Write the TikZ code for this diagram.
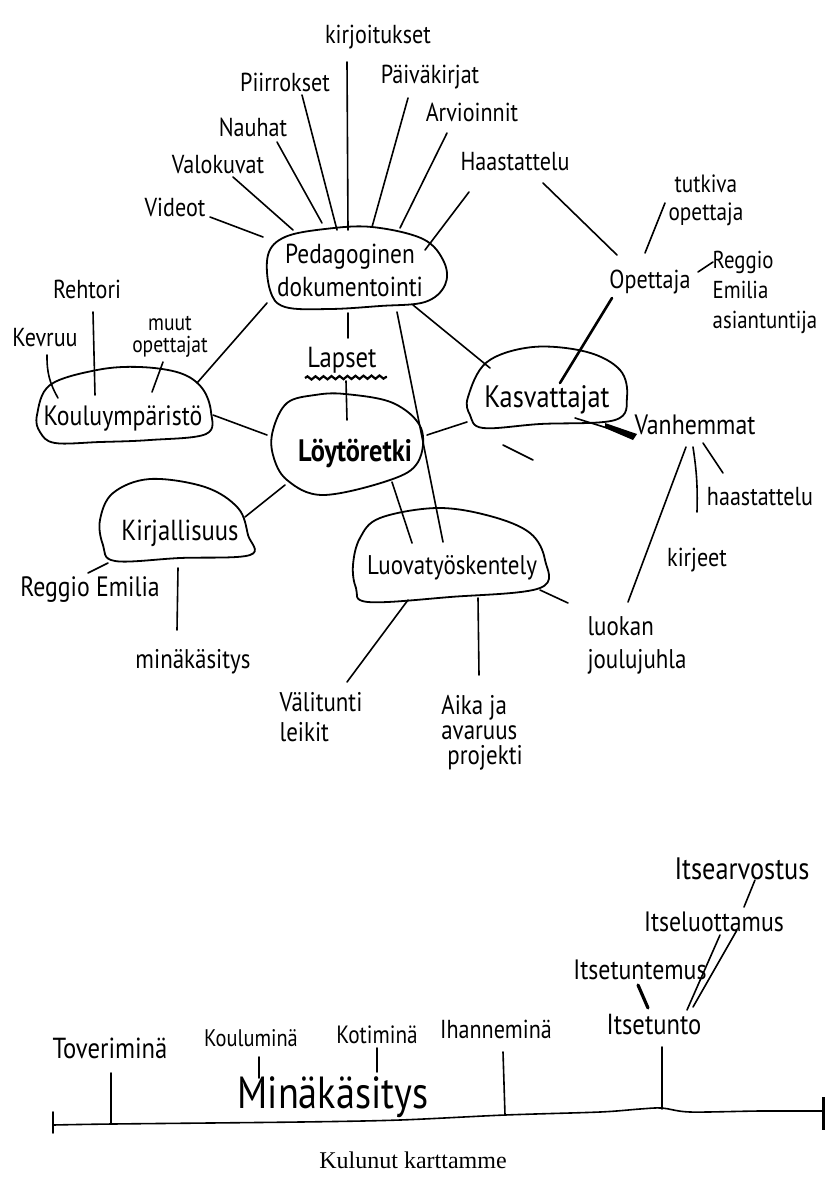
\documentclass[tikz,border=0pt]{standalone}
\usepackage{fontspec}
\setmainfont{PT Sans}[FakeStretch=0.85]
\newfontfamily\capfont{Liberation Serif}
\usetikzlibrary{decorations.pathmorphing}
\newcommand\fsz[2]{\fontsize{#1}{#2}\selectfont}
\begin{document}
\begin{tikzpicture}[x=1pt,y=-1pt,
 lbl/.style={inner sep=1pt, font=\fsz{26}{30}, align=center},
 llbl/.style={lbl, align=left},
 btxt/.style={inner sep=1pt, font=\fsz{27.5}{33}, align=center},
 conn/.style={line width=1.6pt, line cap=round},
 heavy/.style={line width=3.2pt, line cap=round},
 blob/.style={line width=1.8pt}]
\fill[white] (0,0) rectangle (827,1189);
\useasboundingbox (0,0) rectangle (827,1189);

% ---------- blob outlines ----------
\draw[blob] plot[smooth cycle, tension=0.6] coordinates {(268,255) (285,237) (325,229) (372,227) (423,239) (444,262) (445,285) (425,302) (380,306) (330,309) (285,307) (270,290)};
\draw[blob] plot[smooth cycle, tension=0.6] coordinates {(37,415) (50,385) (97,370) (140,367) (180,373) (202,388) (211,412) (206,434) (150,440) (100,442) (55,443) (40,432)};
\draw[blob] plot[smooth cycle, tension=0.6] coordinates {(100,520) (113,493) (150,479) (205,487) (238,508) (248,535) (250,555) (180,558) (115,561) (103,545)};
\draw[blob] plot[smooth cycle, tension=0.6] coordinates {(468,397) (487,362) (533,347) (587,352) (620,370) (627,397) (615,420) (540,424) (483,428) (470,415)};
\draw[blob] plot[smooth cycle, tension=0.6] coordinates {(273,430) (287,403) (315,395) (345,394) (393,403) (421,428) (418,462) (390,480) (323,495) (287,480) (273,455)};
\draw[blob] plot[smooth cycle, tension=0.6] coordinates {(353,565) (360,538) (380,518) (437,508) (490,516) (530,533) (545,560) (540,588) (450,597) (368,602) (356,588)};

% ---------- nodes ----------
\node[lbl] (kirj) at (378,37) {kirjoitukset};
\node[lbl] (piir) at (285,82) {Piirrokset};
\node[lbl] (paiv) at (430,77) {Päiväkirjat};
\node[lbl] (arv) at (472,112) {Arvioinnit};
\node[lbl] (haas) at (515,162) {Haastattelu};
\node[lbl] (nauh) at (253,127) {Nauhat};
\node[lbl] (valo) at (218,165) {Valokuvat};
\node[lbl] (vide) at (175,207) {Videot};
\node[btxt] (ped) at (350,270) {Pedagoginen\\dokumentointi};

\node[lbl] (opet) at (650,282) {Opettaja};
\node[lbl, font=\fsz{25}{28}] (tutk) at (706,200) {tutkiva\\opettaja};
\node[llbl, font=\fsz{24.5}{30}] (reg2) at (765,292) {Reggio\\Emilia\\asiantuntija};

\node[lbl] (kevr) at (45,338) {Kevruu};
\node[lbl] (reht) at (87,289) {Rehtori};
\node[lbl, font=\fsz{23}{22}] (muut) at (170,337) {muut\\opettajat};
\node[btxt, font=\fsz{28}{30}] (koul) at (123,418) {Kouluympäristö};

\node[lbl, font=\fsz{29}{30}] (laps) at (342,360) {Lapset};
\node[btxt, font=\bfseries\fsz{31}{33}] (loyt) at (355,453) {Löytöretki};
\node[btxt, font=\fsz{31}{33}] (kasv) at (547,400) {Kasvattajat};
\node[lbl, font=\fsz{28}{30}] (vanh) at (695,425) {Vanhemmat};
\node[lbl] (haa2) at (760,497) {haastattelu};
\node[lbl] (kirje) at (697,560) {kirjeet};
\node[llbl, font=\fsz{27}{33}] (luok) at (637,645) {luokan\\joulujuhla};

\node[btxt, font=\fsz{29}{30}] (kjal) at (180,533) {Kirjallisuus};
\node[lbl, font=\fsz{28}{30}] (reg1) at (90,590) {Reggio Emilia};
\node[lbl, font=\fsz{27}{30}] (mink) at (193,662) {minäkäsitys};

\node[btxt, font=\fsz{27}{30}] (luova) at (452,568) {Luovatyöskentely};
\node[llbl, font=\fsz{27}{30}] (valit) at (321,717) {Välitunti\\leikit};
\node[llbl, font=\fsz{27}{25}] (aika) at (482,733) {Aika ja\\avaruus\\\ projekti};

\node[lbl, font=\fsz{31}{32}] (itsea) at (742,869) {Itsearvostus};
\node[lbl, font=\fsz{28}{30}] (itsel) at (714,922) {Itseluottamus};
\node[lbl, font=\fsz{28}{30}] (itstm) at (640,970) {Itsetuntemus};
\node[lbl, font=\fsz{29}{30}] (itset) at (654,1025) {Itsetunto};
\node[lbl] (ihan) at (496,1029) {Ihanneminä};
\node[lbl, font=\fsz{25}{30}] (kotm) at (377,1035) {Kotiminä};
\node[lbl, font=\fsz{24}{30}] (kolm) at (251,1038) {Kouluminä};
\node[lbl, font=\fsz{29}{30}] (tovm) at (110,1048) {Toveriminä};
\node[inner sep=1pt, font=\fsz{45}{46}] (mkas) at (333,1097) {Minäkäsitys};
\node[inner sep=1pt, font=\capfont\fsz{24}{26}] (cap) at (413,1160) {Kulunut karttamme};

% ---------- connectors: top ----------
\draw[conn] ([shift={(-31,25)}]kirj.center) -- ([shift={(-2,-40)}]ped.center);
\draw[conn] ([shift={(17,13)}]piir.center) -- ([shift={(-13,-40)}]ped.center);
\draw[conn] ([shift={(-22,21)}]paiv.center) -- ([shift={(22,-43)}]ped.center);
\draw[conn] ([shift={(-25,21)}]arv.center) -- ([shift={(50,-42)}]ped.center);
\draw[conn] ([shift={(-46,30)}]haas.center) -- ([shift={(75,-20)}]ped.center);
\draw[conn] ([shift={(24,15)}]nauh.center) -- ([shift={(-28,-47)}]ped.center);
\draw[conn] ([shift={(15,12)}]valo.center) -- ([shift={(-57,-40)}]ped.center);
\draw[conn] ([shift={(35,10)}]vide.center) -- ([shift={(-87,-33)}]ped.center);
\draw[conn] ([shift={(28,21)}]haas.center) -- ([shift={(-33,-27)}]opet.center);
\draw[conn] ([shift={(-41,3)}]tutk.center) -- ([shift={(-5,-29)}]opet.center);
\draw[conn] ([shift={(-52,-30)}]reg2.center) -- ([shift={(48,-10)}]opet.center);
\draw[heavy, line width=2.6pt] ([shift={(-38,16)}]opet.center) -- ([shift={(13,-17)}]kasv.center);

% ---------- connectors: middle ----------
\draw[conn] ([shift={(-83,33)}]ped.center) -- ([shift={(74,-35)}]koul.center);
\draw[conn] ([shift={(-2,43)}]ped.center) -- ([shift={(6,-22)}]laps.center);
\draw[conn] ([shift={(63,35)}]ped.center) -- ([shift={(-57,-32)}]kasv.center);
\draw[conn] ([shift={(47,42)}]ped.center) -- ([shift={(-9,-26)}]luova.center);
\draw[line width=2.2pt, decorate, decoration={snake, amplitude=1.6pt, segment length=8pt}] ([shift={(-37,18)}]laps.center) -- ([shift={(45,17)}]laps.center);
\draw[conn] ([shift={(4,21)}]laps.center) -- ([shift={(-8,-33)}]loyt.center);

\draw[conn] ([shift={(2,17)}]kevr.center) to[bend right=15] ([shift={(-65,-20)}]koul.center);
\draw[conn] ([shift={(6,23)}]reht.center) -- ([shift={(-28,-23)}]koul.center);
\draw[conn] ([shift={(-7,25)}]muut.center) -- ([shift={(29,-26)}]koul.center);
\draw[conn] ([shift={(90,-3)}]koul.center) -- ([shift={(-88,-18)}]loyt.center);

\draw[conn] ([shift={(65,-16)}]kjal.center) -- ([shift={(-70,32)}]loyt.center);
\draw[conn] ([shift={(-72,30)}]kjal.center) -- ([shift={(-2,-17)}]reg1.center);
\draw[conn] ([shift={(-2,35)}]kjal.center) -- ([shift={(-16,-32)}]mink.center);

\draw[conn] ([shift={(-80,22)}]kasv.center) -- ([shift={(72,-18)}]loyt.center);
\draw[conn] ([shift={(28,18)}]kasv.center) -- ([shift={(-62,11)}]vanh.center);
\fill ([shift={(58,23)}]kasv.center) -- ([shift={(-58,9)}]vanh.center) -- ([shift={(-62,15)}]vanh.center) -- ([shift={(58,28)}]kasv.center) -- cycle;
\draw[conn] ([shift={(-44,45)}]kasv.center) -- ([shift={(-14,60)}]kasv.center);

\draw[conn] ([shift={(-9,22)}]vanh.center) -- ([shift={(-9,-43)}]luok.center);
\draw[conn] ([shift={(-2,22)}]vanh.center) to[bend left=5] ([shift={(-63,15)}]haa2.center);
\draw[conn] ([shift={(8,18)}]vanh.center) -- ([shift={(-37,-24)}]haa2.center);

\draw[conn] ([shift={(37,29)}]loyt.center) -- ([shift={(-40,-25)}]luova.center);
\draw[conn] ([shift={(-44,32)}]luova.center) -- ([shift={(26,-35)}]valit.center);
\draw[conn] ([shift={(26,30)}]luova.center) -- ([shift={(-3,-58)}]aika.center);
\draw[conn] ([shift={(88,22)}]luova.center) -- ([shift={(-69,-42)}]luok.center);

% ---------- bottom ----------
\draw[conn] ([shift={(13,11)}]itsea.center) -- ([shift={(30,-15)}]itsel.center);
\draw[conn] ([shift={(6,13)}]itsel.center) -- ([shift={(33,-15)}]itset.center);
\draw[conn] ([shift={(23,8)}]itsel.center) -- ([shift={(39,-18)}]itset.center);
\draw[heavy] ([shift={(-2,15)}]itstm.center) -- ([shift={(-6,-17)}]itset.center);

\draw[conn] plot[smooth] coordinates {(53,1125) (112,1124) (300,1122) (400,1120) (505,1115) (600,1112) (640,1109) (662,1108) (690,1112) (760,1111) (823,1111)};
\draw[conn] (53,1112) -- (53,1133);
\draw[line width=3pt] (823,1097) -- (823,1130);
\draw[conn] ([shift={(1,25)}]tovm.center) -- ([shift={(1,76)}]tovm.center);
\draw[conn] ([shift={(8,19)}]kolm.center) -- ([shift={(8,40)}]kolm.center);
\draw[conn] ([shift={(0,13)}]kotm.center) -- ([shift={(0,37)}]kotm.center);
\draw[conn] ([shift={(7,23)}]ihan.center) -- ([shift={(9,86)}]ihan.center);
\draw[conn] ([shift={(8,22)}]itset.center) -- ([shift={(8,84)}]itset.center);
\end{tikzpicture}
\end{document}
